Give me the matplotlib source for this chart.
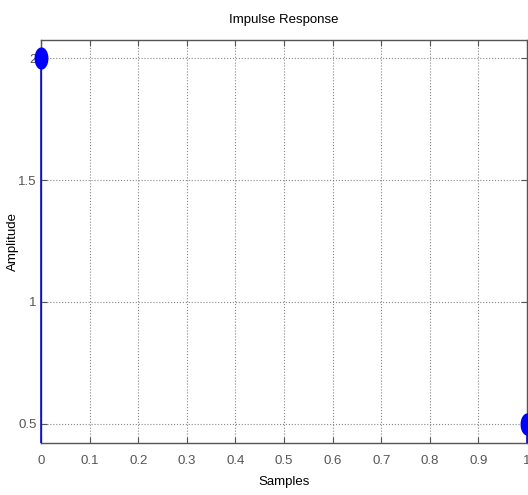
import numpy as np
import matplotlib
matplotlib.use("Agg")
import matplotlib.pyplot as plt
from matplotlib.patches import Rectangle

samples = [0.0, 1.0]
amplitude = [2.0, 0.5]
xticks = [0, 0.1, 0.2, 0.3, 0.4, 0.5, 0.6, 0.7, 0.8, 0.9, 1]
xticklabels = ["0", "0.1", "0.2", "0.3", "0.4", "0.5", "0.6", "0.7", "0.8", "0.9", "1"]
yticks = [0.5, 1, 1.5, 2]
yticklabels = ["0.5", "1", "1.5", "2"]

plt.rcParams['font.family'] = ['Liberation Sans', 'DejaVu Sans']

fig = plt.figure(figsize=(5.28, 4.95), dpi=100)
ax = fig.add_axes([41/528, 52/495, 486/528, 403/495])

t = np.linspace(0, 2*np.pi, 60)
ell = np.column_stack([0.6*np.cos(t), np.sin(t)])

ml, sl, bl = ax.stem(samples, amplitude, linefmt='-', markerfmt='o', basefmt=' ')
sl.set_color('#0000cc')
sl.set_linewidth(1.1)
sl.set_zorder(4)
clip = Rectangle((-0.01, 0), 1.02, 1, transform=ax.transAxes, facecolor='none')
sl.set_clip_path(clip)
plt.setp(ml, color='#0000ff', marker=ell, markersize=15, zorder=5)
ml.set_clip_on(False)

ax.set_xlim(0, 1)
ax.set_ylim(0.422, 2.074)
ax.set_xticks(xticks)
ax.set_xticklabels(xticklabels)
ax.set_yticks(yticks)
ax.set_yticklabels(yticklabels)
ax.grid(True, linestyle=':', color='#888888', linewidth=0.8)
ax.tick_params(direction='in', length=4, top=True, right=True, colors='#555555',
               labelsize=9.5, labelcolor='#555555')
ax.tick_params(axis='x', pad=9)
ax.tick_params(axis='y', pad=3)
for s in ax.spines.values():
    s.set_color('#555555')
    s.set_linewidth(1.0)

ax.set_title("Impulse Response", fontsize=9.5, pad=12)
ax.set_xlabel("Samples", fontsize=9.5, labelpad=6)
ax.set_ylabel("Amplitude", fontsize=9.5)
ax.yaxis.set_label_coords(-0.045, 0.5)

fig.savefig("out.png", dpi=100)
